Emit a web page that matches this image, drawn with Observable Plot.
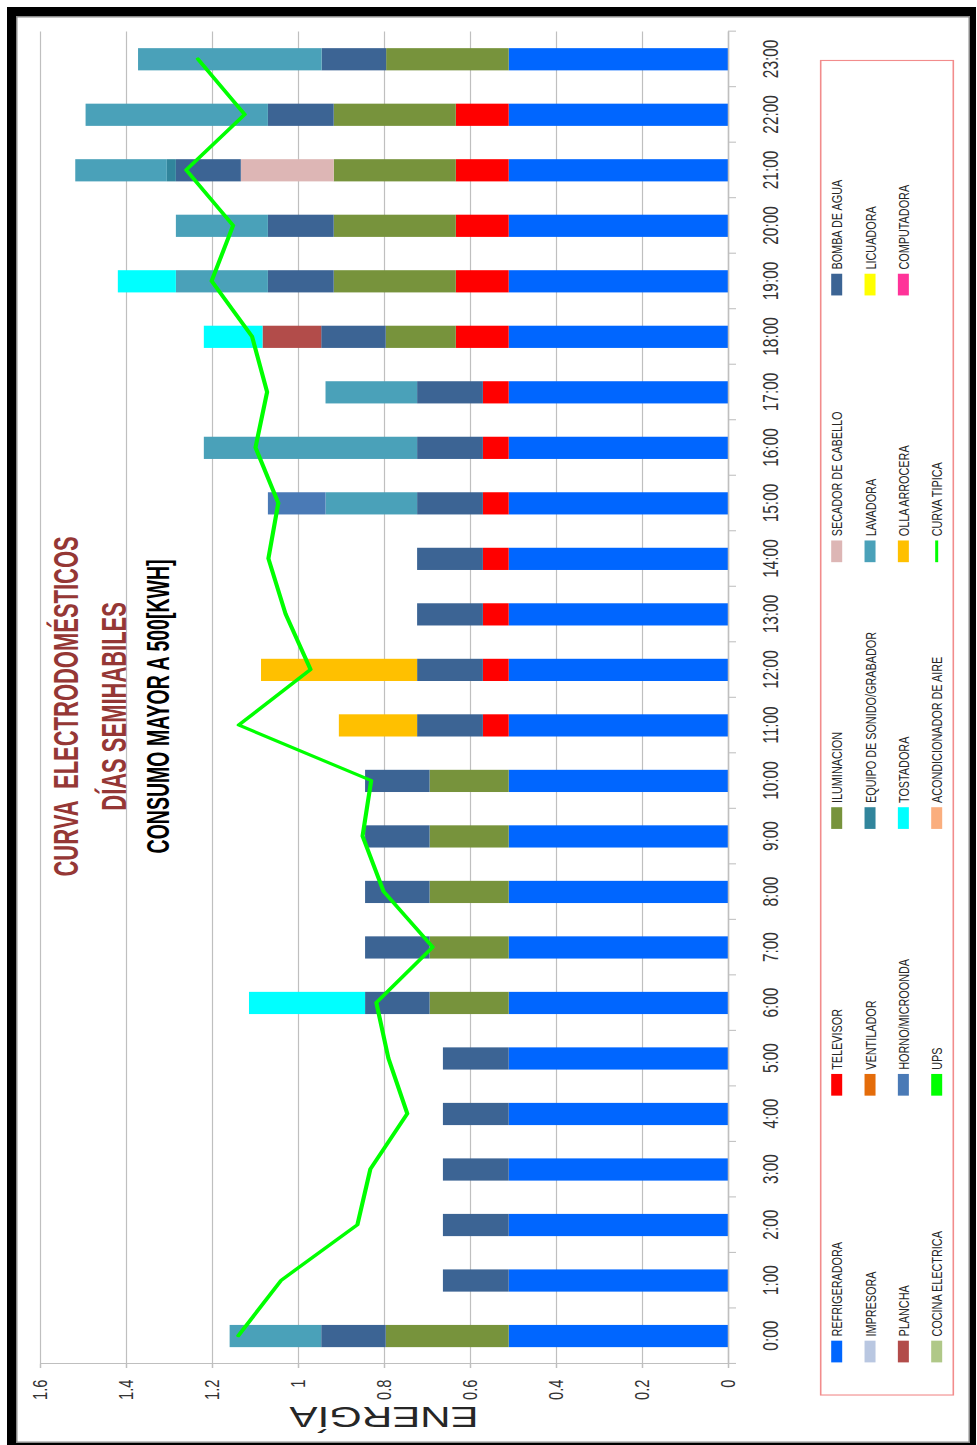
<!DOCTYPE html>
<html><head><meta charset="utf-8">
<script src="https://cdn.jsdelivr.net/npm/d3@7"></script>
<script src="https://cdn.jsdelivr.net/npm/@observablehq/plot@0.6"></script>
<style>
html,body{margin:0;padding:0;background:#fff;width:977px;height:1445px;overflow:hidden;}
#frame{position:absolute;left:7px;top:7px;width:969px;height:1442px;box-sizing:border-box;border-style:solid;border-color:#000;border-width:9px 6px 6px 9px;box-shadow:inset 0 0 0 1.5px #8a8a8a;z-index:5;pointer-events:none}
#rot{position:absolute;left:0;top:0;transform-origin:0 0;background:#fff}
</style></head><body>
<div id="rot"></div><div id="frame"></div>
<script>
// ---------- DATA ----------
const hours = ["0:00","1:00","2:00","3:00","4:00","5:00","6:00","7:00","8:00","9:00","10:00","11:00",
               "12:00","13:00","14:00","15:00","16:00","17:00","18:00","19:00","20:00","21:00","22:00","23:00"];

const seriesNames = ["REFRIGERADORA","TELEVISOR","ILUMINACION","SECADOR DE CABELLO","BOMBA DE AGUA",
  "IMPRESORA","VENTILADOR","EQUIPO DE SONIDO/GRABADOR","LAVADORA","LICUADORA",
  "PLANCHA","HORNO/MICROONDA","TOSTADORA","OLLA ARROCERA","COMPUTADORA",
  "COCINA ELECTRICA","UPS","ACONDICIONADOR DE AIRE"];
const seriesColors = ["#0066FF","#FF0000","#77933C","#DDB6B5","#3C6494",
  "#B9C7E1","#E46C0A","#31859C","#4AA1B9","#FFFF00",
  "#B24C4A","#4A7AB6","#00FFFF","#FFC000","#FF3399",
  "#B0C888","#00FF00","#FAAE7E"];
const curveName = "CURVA TIPICA";
const curveColor = "#00FF00";

const refrigeradora = [0.51,0.51,0.51,0.51,0.51,0.51,0.51,0.51,0.51,0.51,0.51,0.51,0.51,0.51,0.51,0.51,0.51,0.51,0.51,0.51,0.51,0.51,0.51,0.51];
const televisor     = [0,0,0,0,0,0,0,0,0,0,0,0.06,0.06,0.06,0.06,0.06,0.06,0.06,0.123,0.123,0.123,0.123,0.123,0];
const iluminacion   = [0.286,0,0,0,0,0,0.184,0.184,0.184,0.184,0.184,0,0,0,0,0,0,0,0.163,0.284,0.284,0.284,0.284,0.285];
const secador       = [0,0,0,0,0,0,0,0,0,0,0,0,0,0,0,0,0,0,0,0,0,0.216,0,0];
const bomba         = [0.15,0.153,0.153,0.153,0.153,0.153,0.15,0.15,0.15,0.15,0.15,0.153,0.153,0.153,0.153,0.153,0.153,0.153,0.15,0.153,0.153,0.151,0.153,0.15];
const impresora     = [0,0,0,0,0,0,0,0,0,0,0,0,0,0,0,0,0,0,0,0,0,0,0,0];
const ventilador    = [0,0,0,0,0,0,0,0,0,0,0,0,0,0,0,0,0,0,0,0,0,0,0,0];
const equipoSonido  = [0,0,0,0,0,0,0,0,0,0,0,0,0,0,0,0,0,0,0,0,0,0.021,0,0];
const lavadora      = [0.213,0,0,0,0,0,0,0,0,0,0,0,0,0,0,0.213,0.496,0.213,0,0.214,0.214,0.213,0.424,0.427];
const licuadora     = [0,0,0,0,0,0,0,0,0,0,0,0,0,0,0,0,0,0,0,0,0,0,0,0];
const plancha       = [0,0,0,0,0,0,0,0,0,0,0,0,0,0,0,0,0,0,0.1365,0,0,0,0,0];
const horno         = [0,0,0,0,0,0,0,0,0,0,0,0,0,0,0,0.134,0,0,0,0,0,0,0,0];
const tostadora     = [0,0,0,0,0,0,0.27,0,0,0,0,0,0,0,0,0,0,0,0.1365,0.135,0,0,0,0];
const ollaArrocera  = [0,0,0,0,0,0,0,0,0,0,0,0.182,0.363,0,0,0,0,0,0,0,0,0,0,0];
const computadora   = [0,0,0,0,0,0,0,0,0,0,0,0,0,0,0,0,0,0,0,0,0,0,0,0];
const cocina        = [0,0,0,0,0,0,0,0,0,0,0,0,0,0,0,0,0,0,0,0,0,0,0,0];
const ups           = [0,0,0,0,0,0,0,0,0,0,0,0,0,0,0,0,0,0,0,0,0,0,0,0];
const acondicionador= [0,0,0,0,0,0,0,0,0,0,0,0,0,0,0,0,0,0,0,0,0,0,0,0];

const curvaTipica = [1.14,1.04,0.863,0.833,0.747,0.791,0.819,0.688,0.802,0.851,0.831,1.139,
                     0.972,1.03,1.07,1.047,1.10,1.073,1.108,1.202,1.152,1.261,1.125,1.234];

const yTicks = [0,0.2,0.4,0.6,0.8,1,1.2,1.4,1.6];
const titleLines = ["CURVA  ELECTRODOMÉSTICOS","DÍAS SEMIHABILES","CONSUMO MAYOR A 500[KWH]"];
const yLabel = "ENERGÍA";

// ---------- LAYOUT (chart drawn unrotated, then rotated -90° and squeezed) ----------
const W0 = 2064, H = 977, S = 1445 / W0;
const mL = 116, mR = 45, mT = 40, mB = 249;
const step = (W0 - mL - mR) / hours.length;
const plotH = H - mT - mB;
const gridC = "#BFBFBF";
const font = "'Liberation Sans', Arial, sans-serif";

const seriesValues = [refrigeradora,televisor,iluminacion,secador,bomba,impresora,ventilador,equipoSonido,
  lavadora,licuadora,plancha,horno,tostadora,ollaArrocera,computadora,cocina,ups,acondicionador];
const rows = [];
seriesNames.forEach((name,k) => seriesValues[k].forEach((v,i) => { if (v > 0) rows.push({hour: hours[i], series: name, value: v}); }));
const curve = hours.map((h,i) => ({hour: h, value: curvaTipica[i]}));

const plot = Plot.plot({
  width: W0, height: H, marginLeft: mL, marginRight: mR, marginTop: mT, marginBottom: mB,
  style: {fontFamily: font, background: "white", overflow: "visible"},
  x: {type: "band", domain: hours, paddingInner: 0.6, paddingOuter: 0.3, round: false},
  y: {domain: [0, 1.6]},
  color: {domain: seriesNames, range: seriesColors},
  marks: [
    Plot.gridY(yTicks, {stroke: gridC, strokeOpacity: 1, strokeWidth: 1.2}),
    Plot.barY(rows, {x: "hour", y: "value", fill: "series"}),
    Plot.ruleY([0], {stroke: gridC, strokeWidth: 1.5}),
    Plot.ruleY(yTicks, {insetLeft: -6, insetRight: W0 - mL - mR, stroke: gridC, strokeWidth: 1.5}),
    Plot.ruleX([hours[0]], {dx: -step / 2, stroke: gridC, strokeWidth: 1.5}),
    Plot.ruleX(hours, {dx: -step / 2, insetTop: plotH, insetBottom: -8, stroke: gridC, strokeWidth: 1.5}),
    Plot.ruleX([hours[hours.length - 1]], {dx: step / 2, insetTop: plotH, insetBottom: -8, stroke: gridC, strokeWidth: 1.5}),
    Plot.line(curve, {x: "hour", y: "value", stroke: curveColor, strokeWidth: 4.2}),
    Plot.axisX({tickSize: 0, tickPadding: 34, fontSize: 22, color: "#333", label: null}),
    Plot.axisY(yTicks, {tickSize: 0, tickPadding: 23, fontSize: 21, color: "#333", tickFormat: d => String(d), label: null})
  ]
});

const rot = document.getElementById("rot");
rot.style.width = W0 + "px";
rot.style.height = H + "px";
rot.style.transform = `translateY(1445px) rotate(-90deg) scaleX(${S})`;
plot.style.position = "absolute"; plot.style.left = "0px"; plot.style.top = "0px";
rot.appendChild(plot);

// overlay: titles, axis title, legend
const svg = d3.create("svg").attr("width", W0).attr("height", H)
  .style("position", "absolute").style("left", "0px").style("top", "0px").style("overflow", "visible")
  .style("font-family", font);

const titleCx = 1055;
const titleLayout = [
  {y: 78, len: 486, size: 35, fill: "#953735"},
  {y: 126, len: 298, size: 35, fill: "#953735"},
  {y: 169, len: 420, size: 31, fill: "#000000"}
];
titleLines.forEach((t, i) => {
  const L = titleLayout[i];
  svg.append("text").attr("x", titleCx - L.len / 2).attr("y", L.y)
    .attr("textLength", L.len).attr("lengthAdjust", "spacingAndGlyphs")
    .style("white-space", "pre").attr("font-size", L.size).attr("font-weight", "bold")
    .attr("fill", L.fill).text(t);
});

svg.append("text").attr("transform", `translate(54,${(mT + H - mB) / 2}) rotate(-90)`)
  .attr("text-anchor", "middle").attr("font-size", 42).attr("fill", "#262626").text(yLabel);

// legend
svg.append("rect").attr("x", 71.4).attr("y", 820.7).attr("width", 1906.2).attr("height", 132.6)
  .attr("fill", "white").attr("stroke", "#F28C8C").attr("stroke-width", 1.6);
const legendNames = [...seriesNames, curveName];
const legendColors = [...seriesColors, curveColor];
const col0 = 118, colStep = 381;
const row0 = 836.7, rowStep = 33.33;
const swW = 31, swH = 11;
legendNames.forEach((name, i) => {
  const cx = col0 + colStep * (i % 5), cy = row0 + rowStep * Math.floor(i / 5);
  if (name === curveName) {
    svg.append("line").attr("x1", cx).attr("x2", cx + swW).attr("y1", cy).attr("y2", cy)
      .attr("stroke", legendColors[i]).attr("stroke-width", 3);
  } else {
    svg.append("rect").attr("x", cx).attr("y", cy - swH / 2).attr("width", swW).attr("height", swH)
      .attr("fill", legendColors[i]);
  }
  svg.append("text").attr("x", cx + swW + 6).attr("y", cy).attr("dy", "0.36em")
    .attr("font-size", 15.5).attr("fill", "#262626").text(name);
});
rot.appendChild(svg.node());
</script></body></html>
